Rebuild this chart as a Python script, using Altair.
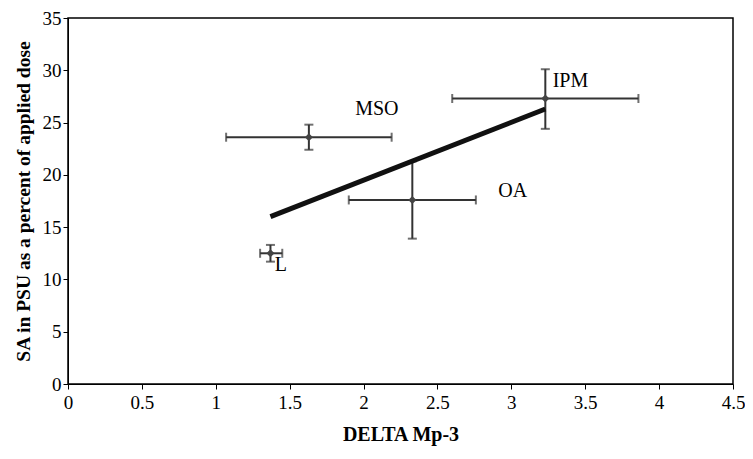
import altair as alt
import pandas as pd

labels = ["MSO", "OA", "L", "IPM"]
delta = [1.63, 2.33, 1.37, 3.23]
sa = [23.6, 17.6, 12.5, 27.3]
delta_lo = [1.07, 1.90, 1.30, 2.60]
delta_hi = [2.19, 2.76, 1.45, 3.86]
sa_lo = [22.4, 13.9, 11.7, 24.4]
sa_hi = [24.8, 21.3, 13.3, 30.1]
label_x = [2.09, 3.01, 1.44, 3.40]
label_y = [26.3, 18.5, 11.4, 29.0]

trend_x = [1.37, 3.23]
trend_y = [16.0, 26.3]

df = pd.DataFrame({"label": labels, "delta": delta, "sa": sa,
                   "dlo": delta_lo, "dhi": delta_hi, "slo": sa_lo, "shi": sa_hi,
                   "lx": label_x, "ly": label_y})
tr = pd.DataFrame({"x": trend_x, "y": trend_y})

FONT = "Liberation Serif"
xs = alt.Scale(domain=[0, 4.5], nice=False)
ys = alt.Scale(domain=[0, 35], nice=False)
xax = alt.Axis(values=[0, 0.5, 1, 1.5, 2, 2.5, 3, 3.5, 4, 4.5], title="DELTA Mp-3",
               format="~g",
               grid=False, labelFontSize=19, titleFontSize=20, labelFont=FONT, titleFont=FONT,
               titleFontWeight="bold", domainColor="black", tickColor="black", labelColor="black",
               titleColor="black", tickSize=5, labelPadding=4, titlePadding=12,
               labelFlush=False)
yax = alt.Axis(values=list(range(0, 36, 5)), title="SA in PSU as a percent of applied dose",
               grid=False, labelFontSize=19, titleFontSize=19.5, labelFont=FONT, titleFont=FONT,
               titleFontWeight="bold", domainColor="black", tickColor="black", labelColor="black",
               titleColor="black", tickSize=5, labelPadding=2, titlePadding=9)

base = alt.Chart(df)
ecol = "#333333"

hbar = base.mark_rule(color=ecol, strokeWidth=2).encode(
    x=alt.X("dlo:Q", scale=xs, axis=xax), x2="dhi:Q", y=alt.Y("sa:Q", scale=ys, axis=yax))
vbar = base.mark_rule(color=ecol, strokeWidth=2).encode(
    x=alt.X("delta:Q", scale=xs), y=alt.Y("slo:Q", scale=ys), y2="shi:Q")
cap_l = base.mark_tick(color=ecol, orient="vertical", size=9, thickness=2).encode(
    x=alt.X("dlo:Q", scale=xs), y=alt.Y("sa:Q", scale=ys))
cap_r = base.mark_tick(color=ecol, orient="vertical", size=9, thickness=2).encode(
    x=alt.X("dhi:Q", scale=xs), y=alt.Y("sa:Q", scale=ys))
cap_b = base.mark_tick(color=ecol, orient="horizontal", size=9, thickness=2).encode(
    x=alt.X("delta:Q", scale=xs), y=alt.Y("slo:Q", scale=ys))
cap_t = base.mark_tick(color=ecol, orient="horizontal", size=9, thickness=2).encode(
    x=alt.X("delta:Q", scale=xs), y=alt.Y("shi:Q", scale=ys))
pts = base.mark_point(shape="diamond", filled=True, color="#444444", size=65, opacity=1).encode(
    x=alt.X("delta:Q", scale=xs), y=alt.Y("sa:Q", scale=ys))
txt = base.mark_text(font=FONT, fontSize=20, color="black").encode(
    x=alt.X("lx:Q", scale=xs), y=alt.Y("ly:Q", scale=ys), text="label:N")
line = alt.Chart(tr).mark_line(color="#111111", strokeWidth=5, strokeCap="butt").encode(
    x=alt.X("x:Q", scale=xs), y=alt.Y("y:Q", scale=ys))

chart = alt.layer(hbar, vbar, cap_l, cap_r, cap_b, cap_t, line, pts, txt).properties(
    width=665, height=366,
    autosize=alt.AutoSizeParams(type="none"),
    padding={"left": 60, "top": 10, "right": 12, "bottom": 67},
    background="white",
).configure_view(stroke="black", strokeWidth=1.5)

chart.save("out.html", embed_options={"renderer": "svg", "actions": False})
